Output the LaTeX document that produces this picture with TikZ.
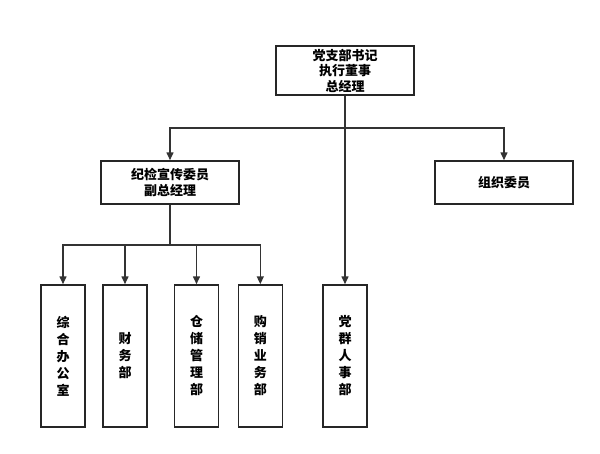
\documentclass[tikz,border=0pt]{standalone}
\usepackage{fontspec}
\setmainfont{Noto Sans CJK SC}
\usetikzlibrary{arrows.meta}
\tikzset{
  box/.style={draw=black!85, line width=1.5pt, fill=white, minimum width=138pt, inner sep=0pt, align=center, font=\fontsize{13pt}{15.5pt}\selectfont\bfseries},
  vbox/.style={draw=black!85, line width=1.5pt, fill=white, minimum width=44pt, minimum height=142pt, inner sep=0pt, align=center, font=\fontsize{13pt}{17pt}\selectfont\bfseries},
  conn/.style={draw=black!80, line width=1.5pt},
  arr/.style={conn, -{Triangle[length=8pt,width=7pt]}}
}
\begin{document}
\begin{tikzpicture}[x=1pt,y=-1pt]
\useasboundingbox (0,0) rectangle (600,453);
\node[box, minimum height=49pt] (top) at (345,70.5) {党支部书记\\执行董事\\总经理};
\node[box, minimum height=43pt] (jj) at (170,182.5) {纪检宣传委员\\副总经理};
\node[box, minimum height=43pt] (zz) at (504,182.5) {组织委员};
\node[vbox] (b1) at (63,356) {综\\合\\办\\公\\室};
\node[vbox] (b2) at (125,356) {财\\务\\部};
\node[vbox] (b3) at (196.5,356) {仓\\储\\管\\理\\部};
\node[vbox] (b4) at (260.3,356) {购\\销\\业\\务\\部};
\node[vbox] (b5) at (345,356) {党\\群\\人\\事\\部};
\coordinate (j1) at (345,128);
\coordinate (j2) at (170,245);
\draw[arr] (top) -- (b5);
\draw[arr] (j1) -| (jj);
\draw[arr] (j1) -| (zz);
\draw[conn] (jj) -- (j2);
\draw[arr] (j2) -| (b1);
\draw[arr] (j2) -| (b2);
\draw[arr] (j2) -| (b3);
\draw[arr] (j2) -| (b4);
\end{tikzpicture}
\end{document}
